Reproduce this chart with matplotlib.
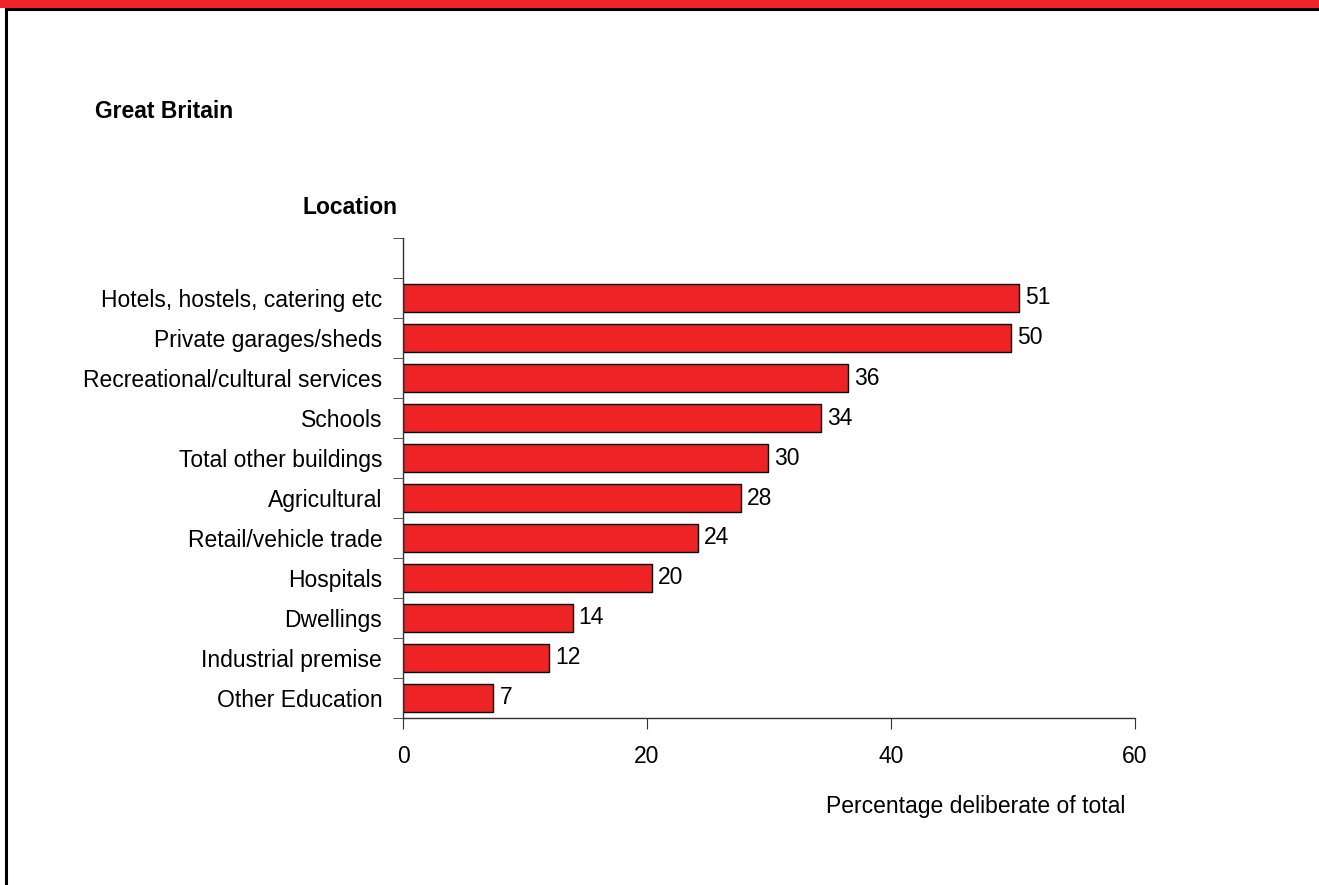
import matplotlib
matplotlib.use("Agg")
import matplotlib.pyplot as plt
import numpy as np
from matplotlib.lines import Line2D
from matplotlib.patches import Rectangle

plt.rcParams['font.family'] = ['Liberation Sans', 'DejaVu Sans']

# data, top to bottom as in the chart
locations = ["Hotels, hostels, catering etc", "Private garages/sheds",
             "Recreational/cultural services", "Schools", "Total other buildings",
             "Agricultural", "Retail/vehicle trade", "Hospitals", "Dwellings",
             "Industrial premise", "Other Education"]
pct = [50.5, 49.8, 36.5, 34.3, 29.9, 27.7, 24.2, 20.4, 13.9, 12.0, 7.4]
pct_labels = ["51", "50", "36", "34", "30", "28", "24", "20", "14", "12", "7"]
xticks = [0, 20, 40, 60]

red = "#EE2326"
fs = 16.5

fig = plt.figure(figsize=(13.19, 8.85), dpi=100)

# header band and frame
fig.patches.append(Rectangle((0, 1 - 8 / 885), 1, 8 / 885, transform=fig.transFigure,
                             facecolor="#F0242A", edgecolor="none"))
fig.lines.append(Line2D([5.5 / 1319, 1], [1 - 9 / 885, 1 - 9 / 885],
                        transform=fig.transFigure, color="black", lw=2.2))
fig.lines.append(Line2D([6 / 1319, 6 / 1319], [0, 1 - 9 / 885],
                        transform=fig.transFigure, color="black", lw=2.2))

ax = fig.add_axes([403 / 1319, 1 - 718 / 885, 732 / 1319, 480 / 885])

n = len(locations)
y = np.arange(n)[::-1]
ax.barh(y, pct, height=0.7, color=red, edgecolor="black", linewidth=1.0)
for yi, v, lab in zip(y, pct, pct_labels):
    ax.text(v + 0.5, yi, lab, va="center", ha="left", fontsize=fs)

ax.set_xlim(0, 60)
ax.set_ylim(-0.5, n + 0.5)
ax.set_xticks(xticks)
ax.set_xticklabels([str(t) for t in xticks], fontsize=fs)
ax.set_yticks(y)
ax.set_yticklabels(locations, fontsize=fs)
ax.set_yticks(np.arange(-0.5, n + 0.6, 1), minor=True)
ax.tick_params(axis="y", which="major", length=0, pad=15)
ax.tick_params(axis="y", which="minor", length=7, direction="out", color="#333333")
ax.tick_params(axis="x", length=8, direction="out", pad=11.5, color="#333333")

for s in ["top", "right"]:
    ax.spines[s].set_visible(False)
for s in ["left", "bottom"]:
    ax.spines[s].set_color("#333333")
    ax.spines[s].set_linewidth(1.0)

fig.text(95 / 1319, 1 - 112 / 885, "Great Britain", fontsize=fs, fontweight="bold",
         va="center", ha="left")
fig.text(398 / 1319, 1 - 207 / 885, "Location", fontsize=fs, fontweight="bold",
         va="center", ha="right")
fig.text(1125 / 1319, 1 - 806 / 885, "Percentage deliberate of total", fontsize=fs,
         va="center", ha="right")

fig.savefig("out.png", dpi=100)
